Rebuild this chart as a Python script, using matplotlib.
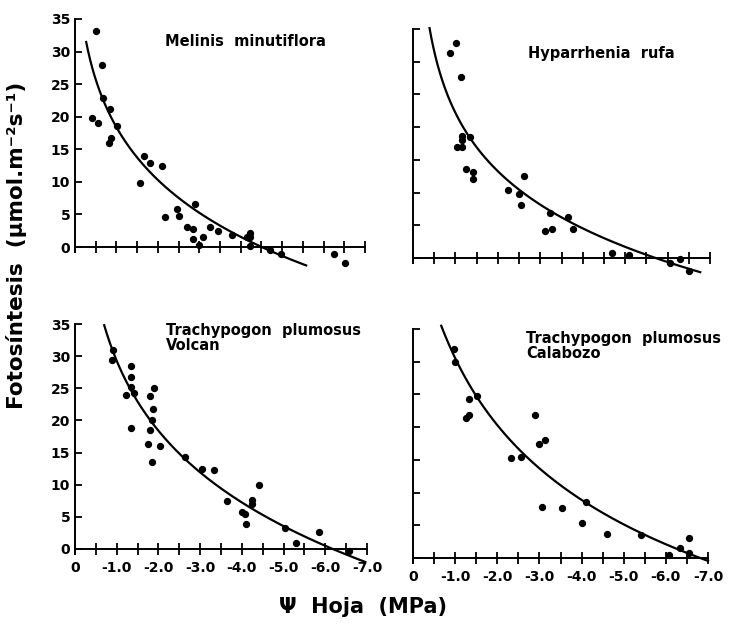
import matplotlib
matplotlib.use("Agg")
import matplotlib.pyplot as plt
import matplotlib.ticker as ticker
import numpy as np

plt.rcParams['font.family'] = 'DejaVu Sans'
plt.rcParams['axes.unicode_minus'] = False

# leaf water potential (MPa) and photosynthesis (umol m-2 s-1)
# Melinis minutiflora
mm_psi = [-0.51, -0.66, -0.67, -0.84, -0.42, -0.56, -1.01, -0.83, -0.87, -1.57, -1.66, -1.81,
          -2.09, -2.17, -2.45, -2.51, -2.71, -2.85, -2.90, -2.85, -3.00, -3.09, -3.25, -3.45,
          -3.79, -4.14, -4.22, -4.23, -4.22, -4.70, -4.98, -6.24, -6.51]
mm_ps = [33.2, 28.0, 22.8, 21.2, 19.8, 19.0, 18.6, 16.0, 16.7, 9.8, 14.0, 12.9,
         12.5, 4.6, 5.8, 4.8, 3.1, 2.8, 6.6, 1.3, 0.3, 1.6, 3.1, 2.5,
         1.8, 1.5, 2.1, 1.5, 0.2, -0.5, -1.1, -1.1, -2.5]
mm_fit_psi = [-0.27, -0.44, -0.67, -0.84, -1.00, -1.24, -1.65, -2.05, -2.45, -2.85, -3.25,
              -3.65, -4.06, -4.46, -4.86, -5.26, -5.58]
mm_fit_ps = [31.5, 26.9, 22.8, 20.3, 18.2, 15.9, 12.9, 10.3, 7.7, 5.7, 3.9,
             2.6, 1.5, 0.3, -0.8, -2.0, -3.0]

# Hyparrhenia rufa
hr_psi = [-0.87, -1.02, -1.12, -1.04, -1.16, -1.16, -1.16, -1.35, -1.24, -1.42, -1.42,
          -2.24, -2.50, -2.54, -2.61, -3.12, -3.27, -3.24, -3.66, -3.76, -4.70, -5.10,
          -6.06, -6.29, -6.51]
hr_ps = [31.4, 32.9, 27.7, 16.9, 16.9, 18.7, 18.1, 18.5, 13.6, 13.1, 12.1,
         10.4, 9.8, 8.1, 12.6, 4.2, 4.5, 6.9, 6.3, 4.5, 0.7, 0.4,
         -0.8, -0.2, -2.0]
hr_fit_psi = [-0.39, -0.63, -1.02, -1.42, -1.81, -2.20, -2.60, -2.99, -3.38, -3.78, -4.17,
              -4.56, -4.96, -5.35, -5.74, -6.14, -6.53, -6.77]
hr_fit_ps = [35.0, 28.5, 22.4, 17.5, 14.2, 11.7, 9.9, 8.1, 6.6, 5.3, 4.1,
             3.1, 2.0, 1.2, 0.15, -0.8, -1.8, -2.8]

# Trachypogon plumosus, Volcan
tv_psi = [-0.90, -0.88, -1.34, -1.34, -1.34, -1.42, -1.22, -1.34, -1.80, -1.90, -1.86,
          -1.84, -1.80, -1.74, -2.04, -1.84, -2.64, -3.04, -3.34, -3.64, -4.00, -4.08,
          -4.10, -4.24, -4.24, -4.42, -5.04, -5.30, -5.84, -6.56]
tv_ps = [31.0, 29.4, 28.4, 26.8, 25.2, 24.2, 23.9, 18.9, 23.8, 25.0, 21.8,
         20.0, 18.5, 16.3, 16.1, 13.6, 14.3, 12.4, 12.3, 7.5, 5.7, 5.5,
         3.9, 7.6, 7.0, 9.9, 3.3, 0.9, 2.7, -0.3]
tv_fit_psi = [-0.70, -0.84, -1.24, -1.64, -2.04, -2.44, -2.84, -3.24, -3.64, -4.04, -4.44,
              -4.84, -5.24, -5.64, -6.04, -6.44, -6.96]
tv_fit_ps = [35.2, 31.5, 25.8, 21.6, 18.0, 15.4, 13.1, 10.8, 9.0, 7.1, 5.3,
             3.8, 2.5, 1.3, 0.3, -0.6, -1.6]

# Trachypogon plumosus, Calabozo
tc_psi = [-0.97, -0.99, -1.32, -1.52, -1.25, -1.33, -2.33, -2.57, -2.89, -2.98, -3.13,
          -3.05, -3.54, -4.00, -4.11, -4.61, -5.42, -6.07, -6.34, -6.54, -6.54]
tc_ps = [31.9, 29.9, 24.3, 24.7, 21.4, 21.9, 15.3, 15.5, 21.9, 17.4, 18.1,
         7.8, 7.6, 5.4, 8.5, 3.7, 3.5, 0.5, 1.5, 3.1, 0.7]
tc_fit_psi = [-0.67, -1.03, -1.42, -1.82, -2.22, -2.61, -3.01, -3.40, -3.80, -4.19, -4.59,
              -4.98, -5.38, -5.78, -6.17, -6.57, -7.00]
tc_fit_ps = [35.4, 30.5, 25.4, 21.6, 18.6, 16.0, 13.7, 11.7, 9.9, 8.1, 6.6,
             5.2, 3.8, 2.7, 1.5, 0.5, -0.25]

x_major = [0, -1, -2, -3, -4, -5, -6, -7]
x_labels = ['0', '-1.0', '-2.0', '-3.0', '-4.0', '-5.0', '-6.0', '-7.0']
y_major = [0, 5, 10, 15, 20, 25, 30, 35]

W, H = 741, 626
fig = plt.figure(figsize=(W / 100, H / 100), dpi=100)


def panel(left, right, y_top, y_zero, ylo):
    # axes placed in pixel units: y_top is where 35 sits, y_zero where 0 sits
    scale = (y_zero - y_top) / 35.0
    bottom = y_zero - ylo * scale
    return fig.add_axes([left / W, 1 - bottom / H, (right - left) / W, (bottom - y_top) / H])


def smooth(xs, ys):
    lx = np.log(-np.array(xs))
    coef = np.polyfit(lx, ys, 3)
    xx = np.linspace(min(lx), max(lx), 300)
    return -np.exp(xx), np.polyval(coef, xx)


def draw(ax, psi, ps, fit_psi, fit_ps, ylo, xlab, ylab):
    ax.set_xlim(0, -7.0)
    ax.set_ylim(ylo, 35)
    fx, fy = smooth(fit_psi, fit_ps)
    ax.plot(fx, fy, color='black', lw=1.6, clip_on=False)
    ax.scatter(psi, ps, s=18, color='black', zorder=3, clip_on=False)
    for s in ['top', 'right']:
        ax.spines[s].set_visible(False)
    ax.spines['bottom'].set_position(('data', 0))
    ax.spines['bottom'].set_linewidth(1.4)
    ax.spines['left'].set_linewidth(1.4)
    ax.spines['left'].set_bounds(-0.8, 35)
    ax.xaxis.set_major_locator(ticker.FixedLocator(x_major))
    ax.xaxis.set_minor_locator(ticker.FixedLocator(np.arange(-0.5, -7.5, -1.0)))
    ax.yaxis.set_major_locator(ticker.FixedLocator(y_major))
    ax.tick_params(axis='x', which='both', direction='inout', length=9, width=1.3)
    ax.tick_params(axis='y', direction='in', length=5, width=1.3)
    if xlab:
        ax.set_xticklabels(x_labels, fontsize=10, fontweight='bold')
        ax.tick_params(axis='x', pad=4)
    else:
        ax.set_xticklabels([])
    if ylab:
        ax.set_yticklabels([str(v) for v in y_major], fontsize=10, fontweight='bold')
    else:
        ax.set_yticklabels([])


ax1 = panel(75, 365, 19, 247, -3.5)
draw(ax1, mm_psi, mm_ps, mm_fit_psi, mm_fit_ps, -3.5, False, True)
ax2 = panel(413, 710, 29, 258, -3.5)
draw(ax2, hr_psi, hr_ps, hr_fit_psi, hr_fit_ps, -3.5, False, False)
ax3 = panel(75, 367, 324, 549, -2.0)
draw(ax3, tv_psi, tv_ps, tv_fit_psi, tv_fit_ps, -2.0, True, True)
ax4 = panel(413, 708, 329, 558, -2.0)
draw(ax4, tc_psi, tc_ps, tc_fit_psi, tc_fit_ps, -2.0, True, False)

tkw = dict(fontsize=10.5, fontweight='bold', va='top', ha='left')
fig.text(165 / W, 1 - 34 / H, 'Melinis  minutiflora', **tkw)
fig.text(528 / W, 1 - 46 / H, 'Hyparrhenia  rufa', **tkw)
fig.text(166 / W, 1 - 323 / H, 'Trachypogon  plumosus\nVolcan', linespacing=1.0, **tkw)
fig.text(526 / W, 1 - 331 / H, 'Trachypogon  plumosus\nCalabozo', linespacing=1.0, **tkw)

fig.text(17 / W, 1 - 245 / H, 'Fotosíntesis  (µmol.m⁻²s⁻¹)', rotation=90,
         fontsize=15.5, fontweight='bold', ha='center', va='center')
fig.text(363 / W, 1 - 607 / H, 'Ψ  Hoja  (MPa)', fontsize=15, fontweight='bold',
         ha='center', va='center')

fig.savefig('out.png', dpi=100)
